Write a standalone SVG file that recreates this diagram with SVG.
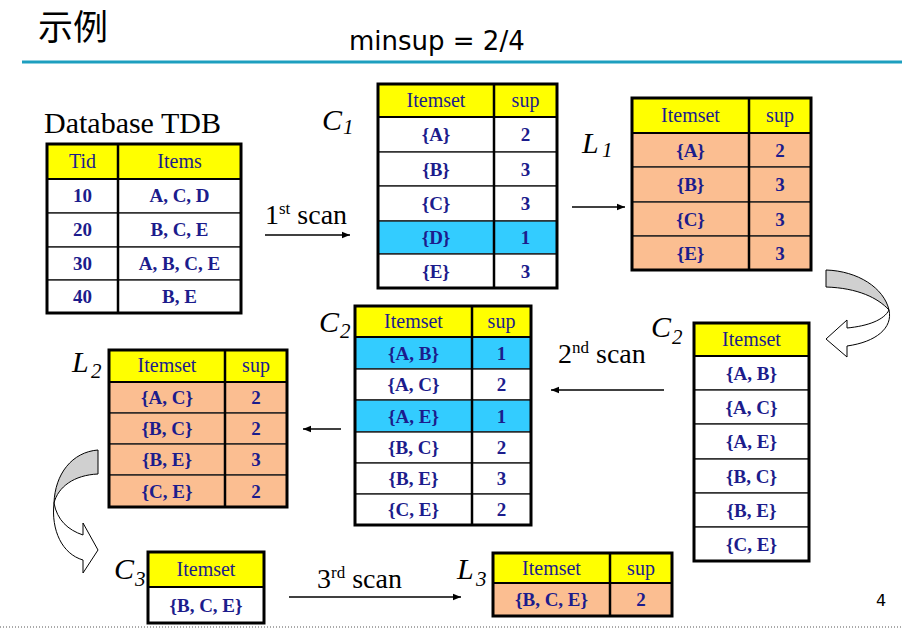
<svg xmlns="http://www.w3.org/2000/svg" width="902" height="628" viewBox="0 0 902 628">
<style>
.serif{font-family:"Liberation Serif","Times New Roman",serif}
.hd{fill:#ffff00}
.wh{fill:#ffffff}
.bl{fill:#33ccff}
.or{fill:#fbbe91}
.cell{stroke:#222;stroke-width:1.4}
.outer{fill:none;stroke:#000;stroke-width:3}
.div{stroke:#000;stroke-width:2.5}
.hline{stroke:#000;stroke-width:2}
.th{font-family:"Liberation Serif","Times New Roman",serif;font-size:20px;fill:#1c1c8c;text-anchor:middle}
.td{font-family:"Liberation Serif","Times New Roman",serif;font-size:19px;font-weight:bold;fill:#1c1c8c;text-anchor:middle}
.lab{font-family:"Liberation Serif","Times New Roman",serif;font-size:30px;font-style:italic;fill:#000}
.sub{font-family:"Liberation Serif","Times New Roman",serif;font-size:21px;font-style:italic;fill:#000}
.scan{font-family:"Liberation Serif","Times New Roman",serif;font-size:28px;fill:#000}
.sup{font-size:17px}
.arr{stroke:#000;stroke-width:1.5;fill:none;marker-end:url(#ah)}
</style>
<defs>
<marker id="ah" viewBox="0 0 10 10" refX="10" refY="5" markerWidth="8" markerHeight="8" markerUnits="userSpaceOnUse" orient="auto">
<path d="M0,1 L10,5 L0,9 Z" fill="#000"/>
</marker>
</defs>
<rect width="902" height="628" fill="#fff"/>
<g id="title">
<text x="38" y="40" font-family="'Noto Sans CJK SC','Noto Sans',sans-serif" font-size="35" fill="#000">示例</text>
<text x="349" y="50" font-family="'DejaVu Sans',Verdana,sans-serif" font-size="26" fill="#000">minsup = 2/4</text>
<line x1="22" y1="62" x2="902" y2="62" stroke="#1d9fbf" stroke-width="3"/>
</g>

<g id="tdb">
<text class="serif" x="44" y="133" font-size="30" fill="#000">Database TDB</text>
<rect class="hd cell" x="47" y="144" width="194" height="35"/>
<rect class="wh cell" x="47" y="179" width="194" height="34"/>
<rect class="wh cell" x="47" y="213" width="194" height="34"/>
<rect class="wh cell" x="47" y="247" width="194" height="33"/>
<rect class="wh cell" x="47" y="280" width="194" height="33"/>
<line class="hline" x1="47" y1="179" x2="241" y2="179"/>
<line class="div" x1="118" y1="144" x2="118" y2="313"/>
<rect class="outer" x="47" y="144" width="194" height="169"/>
<text class="th" x="82.5" y="168">Tid</text><text class="th" x="179.5" y="168">Items</text>
<text class="td" x="82.5" y="202">10</text><text class="td" x="179.5" y="202">A, C, D</text>
<text class="td" x="82.5" y="236">20</text><text class="td" x="179.5" y="236">B, C, E</text>
<text class="td" x="82.5" y="270">30</text><text class="td" x="179.5" y="270">A, B, C, E</text>
<text class="td" x="82.5" y="303">40</text><text class="td" x="179.5" y="303">B, E</text>
</g>

<g id="c1">
<text class="lab" x="322" y="130">C</text><text class="sub" x="343" y="134">1</text>
<rect class="hd cell" x="378" y="84" width="179" height="33"/>
<rect class="wh cell" x="378" y="117" width="179" height="35"/>
<rect class="wh cell" x="378" y="152" width="179" height="34"/>
<rect class="wh cell" x="378" y="186" width="179" height="35"/>
<rect class="bl cell" x="378" y="221" width="179" height="33"/>
<rect class="wh cell" x="378" y="254" width="179" height="34"/>
<line class="hline" x1="378" y1="117" x2="557" y2="117"/>
<line class="div" x1="494" y1="84" x2="494" y2="288"/>
<rect class="outer" x="378" y="84" width="179" height="204"/>
<text class="th" x="436" y="107">Itemset</text><text class="th" x="525.5" y="107">sup</text>
<text class="td" x="436" y="141">{A}</text><text class="td" x="525.5" y="141">2</text>
<text class="td" x="436" y="175.5">{B}</text><text class="td" x="525.5" y="175.5">3</text>
<text class="td" x="436" y="210">{C}</text><text class="td" x="525.5" y="210">3</text>
<text class="td" x="436" y="244">{D}</text><text class="td" x="525.5" y="244">1</text>
<text class="td" x="436" y="277.5">{E}</text><text class="td" x="525.5" y="277.5">3</text>
</g>

<g id="l1">
<text class="lab" x="582" y="153">L</text><text class="sub" x="602" y="157">1</text>
<rect class="hd cell" x="632" y="98" width="179" height="35"/>
<rect class="or cell" x="632" y="133" width="179" height="34"/>
<rect class="or cell" x="632" y="167" width="179" height="35"/>
<rect class="or cell" x="632" y="202" width="179" height="34"/>
<rect class="or cell" x="632" y="236" width="179" height="34"/>
<line class="hline" x1="632" y1="133" x2="811" y2="133"/>
<line class="div" x1="749" y1="98" x2="749" y2="270"/>
<rect class="outer" x="632" y="98" width="179" height="172"/>
<text class="th" x="690.5" y="122">Itemset</text><text class="th" x="780" y="122">sup</text>
<text class="td" x="690.5" y="156.5">{A}</text><text class="td" x="780" y="156.5">2</text>
<text class="td" x="690.5" y="191">{B}</text><text class="td" x="780" y="191">3</text>
<text class="td" x="690.5" y="225.5">{C}</text><text class="td" x="780" y="225.5">3</text>
<text class="td" x="690.5" y="259.5">{E}</text><text class="td" x="780" y="259.5">3</text>
</g>

<g id="c2r">
<text class="lab" x="651" y="337">C</text><text class="sub" x="672" y="344">2</text>
<rect class="hd cell" x="694" y="323" width="115" height="33"/>
<rect class="wh cell" x="694" y="356" width="115" height="34"/>
<rect class="wh cell" x="694" y="390" width="115" height="34"/>
<rect class="wh cell" x="694" y="424" width="115" height="35"/>
<rect class="wh cell" x="694" y="459" width="115" height="34"/>
<rect class="wh cell" x="694" y="493" width="115" height="34"/>
<rect class="wh cell" x="694" y="527" width="115" height="34"/>
<line class="hline" x1="694" y1="356" x2="809" y2="356"/>
<rect class="outer" x="694" y="323" width="115" height="238"/>
<text class="th" x="751.5" y="346">Itemset</text>
<text class="td" x="751.5" y="379.5">{A, B}</text>
<text class="td" x="751.5" y="413.5">{A, C}</text>
<text class="td" x="751.5" y="448">{A, E}</text>
<text class="td" x="751.5" y="482.5">{B, C}</text>
<text class="td" x="751.5" y="516.5">{B, E}</text>
<text class="td" x="751.5" y="550.5">{C, E}</text>
</g>

<g id="c2m">
<text class="lab" x="319" y="332">C</text><text class="sub" x="340" y="338">2</text>
<rect class="hd cell" x="355" y="306" width="176" height="31"/>
<rect class="bl cell" x="355" y="337" width="176" height="32"/>
<rect class="wh cell" x="355" y="369" width="176" height="31"/>
<rect class="bl cell" x="355" y="400" width="176" height="32"/>
<rect class="wh cell" x="355" y="432" width="176" height="31"/>
<rect class="wh cell" x="355" y="463" width="176" height="31"/>
<rect class="wh cell" x="355" y="494" width="176" height="31"/>
<line class="hline" x1="355" y1="337" x2="531" y2="337"/>
<line class="div" x1="472" y1="306" x2="472" y2="525"/>
<rect class="outer" x="355" y="306" width="176" height="219"/>
<text class="th" x="413.5" y="328">Itemset</text><text class="th" x="501.5" y="328">sup</text>
<text class="td" x="413.5" y="359.5">{A, B}</text><text class="td" x="501.5" y="359.5">1</text>
<text class="td" x="413.5" y="391">{A, C}</text><text class="td" x="501.5" y="391">2</text>
<text class="td" x="413.5" y="422.5">{A, E}</text><text class="td" x="501.5" y="422.5">1</text>
<text class="td" x="413.5" y="454">{B, C}</text><text class="td" x="501.5" y="454">2</text>
<text class="td" x="413.5" y="485">{B, E}</text><text class="td" x="501.5" y="485">3</text>
<text class="td" x="413.5" y="516">{C, E}</text><text class="td" x="501.5" y="516">2</text>
</g>

<g id="l2">
<text class="lab" x="72" y="372">L</text><text class="sub" x="91" y="378">2</text>
<rect class="hd cell" x="109" y="350" width="178" height="32"/>
<rect class="or cell" x="109" y="382" width="178" height="31"/>
<rect class="or cell" x="109" y="413" width="178" height="31"/>
<rect class="or cell" x="109" y="444" width="178" height="31"/>
<rect class="or cell" x="109" y="475" width="178" height="32"/>
<line class="hline" x1="109" y1="382" x2="287" y2="382"/>
<line class="div" x1="225" y1="350" x2="225" y2="507"/>
<rect class="outer" x="109" y="350" width="178" height="157"/>
<text class="th" x="167" y="372">Itemset</text><text class="th" x="256" y="372">sup</text>
<text class="td" x="167" y="404">{A, C}</text><text class="td" x="256" y="404">2</text>
<text class="td" x="167" y="435">{B, C}</text><text class="td" x="256" y="435">2</text>
<text class="td" x="167" y="466">{B, E}</text><text class="td" x="256" y="466">3</text>
<text class="td" x="167" y="497.5">{C, E}</text><text class="td" x="256" y="497.5">2</text>
</g>

<g id="c3">
<text class="lab" x="114" y="579">C</text><text class="sub" x="135" y="586">3</text>
<rect class="hd cell" x="148" y="552" width="116" height="35"/>
<rect class="wh cell" x="148" y="587" width="116" height="36"/>
<line class="hline" x1="148" y1="587" x2="264" y2="587"/>
<rect class="outer" x="148" y="552" width="116" height="71"/>
<text class="th" x="206" y="576">Itemset</text>
<text class="td" x="206" y="611.5">{B, C, E}</text>
</g>

<g id="l3">
<text class="lab" x="457" y="579">L</text><text class="sub" x="476" y="586">3</text>
<rect class="hd cell" x="493" y="553" width="179" height="30"/>
<rect class="or cell" x="493" y="583" width="179" height="33"/>
<line class="hline" x1="493" y1="583" x2="672" y2="583"/>
<line class="div" x1="610" y1="553" x2="610" y2="616"/>
<rect class="outer" x="493" y="553" width="179" height="63"/>
<text class="th" x="551.5" y="575">Itemset</text><text class="th" x="641" y="575">sup</text>
<text class="td" x="551.5" y="606">{B, C, E}</text><text class="td" x="641" y="606">2</text>
</g>

<g id="connectors">
<line class="arr" x1="265" y1="235" x2="350" y2="235"/>
<line class="arr" x1="572" y1="207" x2="625" y2="207"/>
<line class="arr" x1="664" y1="390" x2="551" y2="390"/>
<line class="arr" x1="341" y1="429" x2="303" y2="429"/>
<line class="arr" x1="289" y1="597" x2="461" y2="597"/>
<path d="M826,270 C858,271 884,288 889,310 C878,298 858,288 826,287 Z" fill="#d0d0d0" stroke="#000" stroke-width="1"/>
<path d="M889,310 C893,328 876,342 847,346 L847,357 L826,339 L847,320 L847,328 C868,326 884,320 889,310 Z" fill="#fff" stroke="#000" stroke-width="1"/>
<path d="M98,450 C72,452 55,474 54,503 C58,487 74,475 98,474 Z" fill="#d0d0d0" stroke="#000" stroke-width="1"/>
<path d="M54,503 C51,530 62,554 83,560 L83,573 L98,550 L83,523 L83,535 C68,530 57,520 54,503 Z" fill="#fff" stroke="#000" stroke-width="1"/>
</g>

<g id="scanlabels">
<text class="scan" x="265" y="224">1<tspan class="sup" dy="-10">st</tspan><tspan dy="10"> scan</tspan></text>
<text class="scan" x="558" y="363">2<tspan class="sup" dy="-10">nd</tspan><tspan dy="10"> scan</tspan></text>
<text class="scan" x="317" y="588">3<tspan class="sup" dy="-10">rd</tspan><tspan dy="10"> scan</tspan></text>
</g>

<text x="876" y="606" font-family="'DejaVu Sans',sans-serif" font-size="16" fill="#000">4</text>
<line x1="0" y1="627" x2="902" y2="627" stroke="#555" stroke-width="1" stroke-dasharray="1,2"/>
</svg>
